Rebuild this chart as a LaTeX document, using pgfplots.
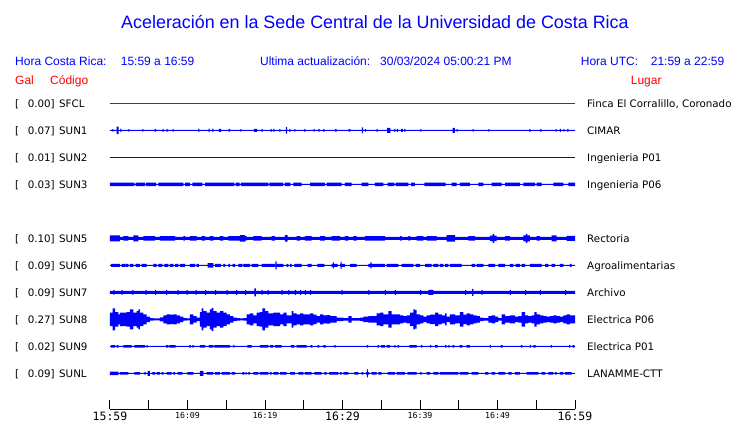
\documentclass[border=0pt]{standalone}
\usepackage{fontspec}
\setmainfont{Liberation Sans}
\newfontfamily\dv{DejaVu Sans}
\newfontfamily\dvm{DejaVu Sans Mono}
\usepackage{pgfplots}
\usepackage{pgfplotstable}
\pgfplotsset{compat=1.18}
\usepgfplotslibrary{fillbetween}
\definecolor{tb}{RGB}{0,0,255}
\definecolor{trd}{RGB}{215,0,0}
\definecolor{hr}{RGB}{255,0,0}

\pgfplotstableread{
t a
0 0.5
0.30 1.3
0.43 0.5
0.85 3.7
1.11 0.5
1.33 1.8
1.46 0.5
2.37 1.2
2.50 0.5
4.17 1.2
4.30 0.5
5.75 1.3
5.94 0.5
6.80 1.5
6.93 0.5
7.31 1.5
7.44 0.5
8.09 1.3
8.22 0.5
11.40 1.8
11.53 0.5
12.73 1.8
12.86 0.5
13.20 1.8
13.33 0.5
14.05 1.5
14.35 0.5
15.30 1.2
15.50 0.5
16.82 1.3
16.95 0.5
18.55 1.5
18.98 0.5
19.57 1.5
19.70 0.5
20.73 1.5
20.86 0.5
21.08 1.5
21.21 0.5
21.85 1.5
21.98 0.5
22.70 3.3
22.86 0.5
23.14 1.5
23.27 0.5
23.78 1.3
23.91 0.5
25.08 1.5
25.21 0.5
26.28 1.2
26.41 0.5
26.88 1.2
27.05 0.5
27.53 1.5
27.66 0.5
29.05 1.3
29.25 0.5
30.80 1.2
31.00 0.5
32.50 3.0
32.66 0.5
32.90 1.3
33.03 0.5
34.41 1.5
34.54 0.5
35.75 2.5
36.18 0.5
36.69 1.5
36.82 0.5
37.03 1.5
37.16 0.5
37.55 1.5
37.80 0.5
37.98 1.5
38.11 0.5
40.04 1.2
40.17 0.5
44.20 2.5
44.50 0.5
44.73 1.3
44.86 0.5
46.80 1.3
46.93 0.5
48.82 1.3
48.95 0.5
54.11 1.5
54.24 0.5
55.53 1.5
55.66 0.5
57.51 1.3
57.64 0.5
58.06 1.5
58.19 0.5
58.49 1.2
58.62 0.5
59.01 1.5
59.14 0.5
60 0.5
}\sunone

\pgfplotstableread{
t a
0 1.7
3.14 0.5
3.31 1.7
4.52 0.5
4.65 1.7
5.94 0.5
6.24 1.7
9.46 0.5
9.68 1.7
10.32 0.5
10.62 1.7
11.91 0.5
12.26 1.7
16.04 0.5
16.22 1.7
16.73 0.5
16.90 1.7
20.43 0.5
20.56 1.7
22.37 0.5
22.58 1.7
23.27 0.5
23.66 1.7
24.73 0.5
25.81 1.7
27.74 0.5
27.96 1.7
29.89 0.5
30.32 1.7
31.18 0.5
32.47 1.7
33.33 0.5
34.19 1.7
35.27 0.5
35.83 1.7
36.69 0.5
36.86 1.7
38.49 0.5
38.84 1.7
39.35 0.5
40.56 1.7
43.31 0.5
44.09 1.7
44.73 0.5
45.16 1.7
46.45 0.5
47.53 1.7
48.17 0.5
49.25 1.7
50.54 0.5
50.97 1.7
52.90 0.5
53.33 1.7
54.84 0.5
55.05 1.7
55.70 0.5
57.20 1.7
58.49 0.5
59.14 1.7
60 1.7
}\sunthree

\pgfplotstableread{
t a
0 3
1.29 1.6
1.72 2.3
2.37 1.6
3.01 3
3.66 1.6
4.30 2.2
5.81 1.6
6.45 2.3
8.39 1.6
9.46 2.2
9.68 1.6
10.32 2.2
11.18 1.6
11.83 2.2
12.26 1.6
12.90 2.2
13.33 1.6
14.19 2.2
14.62 1.6
15.27 2.3
16.77 3.3
17.42 2.3
17.63 1.6
18.49 2.3
19.57 1.6
20.86 2.2
21.29 1.6
22.58 3.3
22.92 1.6
24.09 2.2
24.52 1.6
25.16 2.3
26.02 1.6
27.10 2.2
27.74 1.6
28.60 2.3
29.68 1.6
30.32 2.2
30.75 1.6
31.40 2.2
31.83 1.6
32.90 2.3
35.48 1.6
37.42 2.3
37.63 1.6
38.49 2.3
38.71 1.6
39.57 2.2
40.43 1.6
40.86 2.3
42.15 1.6
43.44 3.3
44.52 1.6
46.24 2.3
47.10 1.6
49.03 2.8
49.36 4.5
49.56 2.8
49.89 1.6
50.97 2.2
51.61 1.6
53.33 3.0
53.66 4.5
53.86 3.0
54.19 1.6
55.05 2.2
55.48 1.6
56.99 3
57.63 1.6
58.92 2.5
60 2.5
}\sunfive

\pgfplotstableread{
t a
0 0.5
0.13 1.5
1.29 0.5
1.51 1.5
1.94 0.5
2.02 1.5
2.37 0.5
2.58 1.5
3.01 0.5
3.31 1.5
3.87 0.5
4.09 1.5
4.73 0.5
5.59 1.5
6.02 0.5
6.24 1.5
6.75 0.5
7.01 1.5
7.53 0.5
7.74 1.5
8.17 0.5
8.39 1.5
8.82 0.5
9.03 1.5
9.68 0.5
10.32 1.5
10.97 0.5
11.18 1.5
11.48 0.5
12.60 2.3
13.33 0.5
13.55 1.5
14.32 0.5
14.62 1.5
14.84 0.5
15.27 1.5
15.48 0.5
15.83 1.5
16.13 0.5
16.56 1.5
17.08 0.5
17.20 1.5
18.06 0.5
18.28 1.5
19.14 0.5
19.57 1.5
21.29 0.5
21.35 4
21.51 1.5
22.37 0.5
22.80 1.5
23.01 0.5
23.23 1.5
23.44 0.5
23.78 1.5
24.73 0.5
25.51 1.5
26.02 0.5
26.75 1.5
27.66 0.5
28.60 1.5
28.75 3
28.90 1.5
29.38 0.5
29.68 1.5
29.75 3.5
29.90 1.5
30.32 0.5
30.97 1.5
31.83 0.5
33.33 1.5
33.60 3
33.75 1.5
35.48 0.5
35.70 1.5
37.20 0.5
37.63 1.5
39.14 0.5
39.44 1.5
40.00 0.5
40.65 1.5
41.51 0.5
41.72 1.5
42.37 0.5
42.58 1.5
43.01 0.5
43.23 1.5
43.66 0.5
43.87 1.5
45.38 0.5
46.67 1.5
47.10 0.5
47.31 1.5
48.17 0.5
48.82 1.5
49.68 0.5
50.11 1.5
50.97 0.5
51.61 1.5
52.04 0.5
52.34 1.5
52.90 0.5
53.12 1.5
53.55 0.5
54.19 1.5
55.70 0.5
56.13 1.5
56.56 0.5
56.99 1.5
57.42 0.5
58.06 1.5
58.49 0.5
59.35 1.5
59.57 0.5
60 0.5
}\sunsix

\pgfplotstableread{
t a
0 1.5
0.43 2.5
0.56 1.5
1.51 2.5
1.64 1.5
2.88 2.5
3.01 1.5
4.60 2.5
4.73 1.5
5.81 2.5
5.94 1.5
7.23 2.5
7.36 1.5
8.73 2.5
8.86 1.5
9.89 2.5
10.02 1.5
11.05 2.5
11.18 1.5
12.26 2.5
12.39 1.5
13.55 2.5
13.68 1.5
15.05 2.5
15.18 1.5
16.26 2.5
16.39 1.5
17.42 2.5
17.55 1.5
18.62 4
18.82 1.5
19.57 2.5
19.70 1.5
20.34 2.5
20.47 1.5
22.15 2.5
22.28 1.5
23.01 2.5
23.14 1.5
23.87 2.5
24.00 1.5
24.52 2.5
24.65 1.5
25.16 2.5
25.29 1.5
25.81 2.5
25.94 1.5
29.89 2.5
30.02 1.5
33.33 2.5
33.46 1.5
35.48 2.5
35.61 1.5
36.77 2.5
36.90 1.5
40.00 2.5
40.13 1.5
41.08 2.5
41.72 1.5
45.81 2.5
45.94 1.5
46.72 3.5
46.90 1.5
47.96 2.5
48.09 1.5
51.61 2.5
51.74 1.5
53.55 2.5
53.68 1.5
55.48 2.5
55.61 1.5
58.71 2.5
58.84 1.5
60 1.5
}\sunseven

\pgfplotstableread{
t a
0.00 6.7
0.34 11
0.65 7.3
1.08 5
1.29 6.7
1.72 6.7
2.15 7.3
2.58 10
3.01 6.7
3.44 8.3
3.66 10
3.87 6.7
4.30 5
4.73 2.7
5.16 1.3
5.59 1
6.02 1
6.45 2
6.88 4
7.31 5
7.74 4.7
8.17 5
8.60 4
9.03 2.7
9.46 1.3
9.89 1
10.32 5
10.75 3.3
11.18 1.7
11.61 7.3
11.83 11
12.04 8.3
12.47 6.7
12.90 10
13.12 11.5
13.33 8.3
13.76 6.7
14.19 8.3
14.62 6.7
15.05 5
15.48 3.3
15.91 1.7
16.34 1.3
16.77 1
17.20 1.3
17.63 5
18.06 6
18.49 4
18.92 6.7
19.35 7.3
19.66 11
20.00 8.3
20.43 6
21.08 6.7
21.94 5
22.37 6.7
22.80 4
23.44 8.3
23.66 6
24.09 5
24.52 6
24.95 5
25.38 5
25.81 6
26.24 4.7
26.67 3.3
27.10 5
27.53 4
27.96 4.3
28.39 3.3
28.82 3.3
29.25 1.7
30.11 1.3
30.75 3.3
31.18 1.3
32.26 1.7
32.69 2.7
33.33 3.3
34.41 6
34.84 6.7
35.27 5
35.91 8.3
36.34 5
36.99 5
37.42 4
37.85 3.3
38.28 4
38.71 6.7
39.14 10
39.35 9.3
39.57 5
40.00 4
40.43 2.7
40.86 4
41.29 4.7
41.94 6.7
42.37 5
42.80 4
43.23 6
43.44 2.7
43.87 5
44.52 4
45.16 7.3
45.59 4.7
46.02 6
46.45 5
46.88 4
47.31 3.3
47.74 1.7
48.17 1.3
48.82 3.3
49.25 4
49.68 2.7
50.11 1.3
50.54 5
50.97 3.3
51.61 4
52.26 2.7
52.69 3.3
53.12 7.3
53.55 4
53.98 3.3
54.41 4
54.75 7.3
55.05 5
55.48 4
55.91 3.3
56.34 2.7
56.77 3.3
57.20 4
57.63 3.3
58.06 2.7
58.49 4
58.92 5
59.35 4
60.00 3.3
}\suneight

\pgfplotstableread{
t a
0 0.5
0.13 1.3
0.65 0.5
0.86 1.3
1.08 0.5
1.72 1.3
2.80 0.5
3.14 1.3
4.52 0.5
4.73 1.3
4.86 0.5
7.23 1.3
7.53 0.5
7.66 1.3
8.47 0.5
10.24 1.3
10.45 0.5
10.62 1.3
10.80 0.5
11.61 1.3
12.26 0.5
12.77 1.3
13.33 0.5
13.46 1.3
15.48 0.5
15.91 1.3
16.04 0.5
17.72 1.3
18.28 0.5
19.35 1.3
20.43 0.5
20.65 1.3
21.08 0.5
21.29 1.3
22.15 0.5
23.35 1.3
23.78 0.5
24.09 1.3
25.38 0.5
25.89 1.3
26.11 0.5
26.80 1.3
26.97 0.5
27.53 1.3
27.83 0.5
28.95 1.3
29.12 0.5
33.16 1.3
33.29 0.5
34.54 1.3
34.71 0.5
34.97 1.3
35.48 0.5
35.70 1.3
36.13 0.5
36.69 1.3
36.86 0.5
37.12 1.3
37.29 0.5
38.62 1.3
39.57 0.5
40.13 1.3
40.30 0.5
41.29 1.3
41.42 0.5
41.94 1.3
42.28 0.5
43.23 1.3
43.40 0.5
43.66 1.3
43.83 0.5
44.22 1.3
44.43 0.5
45.12 1.3
45.46 0.5
46.02 1.3
46.45 0.5
49.03 1.3
49.16 0.5
50.41 1.3
50.67 0.5
53.03 1.3
53.20 0.5
54.19 1.3
54.32 0.5
54.62 1.3
54.92 0.5
56.90 1.3
57.03 0.5
59.23 1.3
59.36 0.5
59.70 1.3
59.91 0.5
60 0.5
}\sunnine

\pgfplotstableread{
t a
0 1.8
1.08 0.5
1.29 1.3
2.37 0.5
3.14 1.3
3.87 0.5
4.43 1.3
4.60 0.5
4.86 2.5
5.16 0.5
5.46 1.3
5.81 0.5
6.02 1.3
6.45 0.5
6.67 1.3
6.88 0.5
7.31 1.3
7.96 0.5
8.17 1.3
8.39 0.5
8.73 1.3
9.33 0.5
9.98 1.3
10.75 0.5
11.61 2.5
12.04 0.5
12.47 1.3
13.33 0.5
13.55 1.3
14.19 0.5
14.41 1.3
15.48 0.5
15.70 1.3
16.13 0.5
17.08 1.3
17.33 0.5
17.51 1.3
17.63 0.5
17.85 1.3
18.06 0.5
18.49 1.3
19.14 0.5
19.35 1.3
20.43 0.5
20.65 1.3
20.86 0.5
21.08 1.3
21.72 0.5
21.94 1.3
22.80 0.5
23.23 1.3
23.87 0.5
24.30 1.3
24.95 0.5
25.16 1.3
26.02 0.5
26.37 1.3
27.31 0.5
27.66 1.3
27.96 0.5
28.26 1.3
29.46 0.5
29.68 1.3
29.89 0.5
30.11 1.3
30.75 0.5
31.53 1.3
32.04 0.5
32.47 1.3
32.69 0.5
33.05 1.3
33.15 4
33.28 1.3
33.45 0.5
33.76 1.3
34.41 0.5
34.62 1.3
35.05 0.5
35.83 1.3
36.77 0.5
36.99 1.3
38.06 0.5
38.41 1.3
39.57 0.5
40.00 1.3
40.22 0.5
40.86 1.3
41.29 0.5
41.72 1.3
42.37 0.5
42.58 1.3
44.95 0.5
45.16 1.3
46.24 0.5
46.67 1.3
47.53 0.5
48.39 1.3
48.82 0.5
49.25 1.3
49.68 0.5
50.11 1.3
50.97 0.5
51.40 1.3
51.83 0.5
52.26 1.3
52.90 0.5
53.76 1.3
55.27 0.5
55.70 1.3
56.13 0.5
56.56 1.3
57.20 0.5
57.42 1.3
57.63 0.5
58.06 1.3
58.49 0.5
58.71 1.3
59.57 0.5
60 0.5
}\sunL

\newcommand{\trace}[3]{%
  \addplot[draw=none, const plot, name path=#3u, forget plot] table[x=t, y expr=#2+\thisrow{a}] {#1};
  \addplot[draw=none, const plot, name path=#3d, forget plot] table[x=t, y expr=#2-\thisrow{a}] {#1};
  \addplot[fill=tb, draw=none, forget plot] fill between[of=#3u and #3d];
}
\newcommand{\lab}[4]{% y, value, code, place
  \node[anchor=base west, inner sep=0pt, font=\dv\fontsize{10.3}{12}\selectfont] at (axis cs:-12.26,#1-4) {[};
  \node[anchor=base east, inner sep=0pt, font=\dv\fontsize{10.3}{12}\selectfont] at (axis cs:-7.10,#1-4) {#2]};
  \node[anchor=base west, inner sep=0pt, font=\dv\fontsize{10.3}{12}\selectfont] at (axis cs:-6.58,#1-4) {#3};
  \node[anchor=base west, inner sep=0pt, font=\dv\fontsize{10.3}{12}\selectfont] at (axis cs:61.55,#1-4) {#4};
}

\begin{document}
\begin{tikzpicture}
\begin{axis}[
  scale only axis, width=465pt, height=409pt,
  xmin=0, xmax=60, ymin=14, ymax=423,
  axis x line=bottom, axis y line=none,
  x axis line style={-, black, line width=1pt},
  xtick={0,5,...,60},
  xticklabels={{\fontsize{11.5}{12}\selectfont 15:59},{},{16:09},{},{16:19},{},{\fontsize{11.5}{12}\selectfont 16:29},{},{16:39},{},{16:49},{},{\fontsize{11.5}{12}\selectfont 16:59}},
  xticklabel style={font=\dvm\fontsize{8.3}{9}\selectfont, anchor=north, inner sep=0pt, yshift=-3.2pt},
  tick align=inside, major tick length=9pt,
  xtick style={black, line width=1pt},
  clip=false,
]
% traces
\addplot[trd, line width=1pt, forget plot] coordinates {(0,319.6) (60,319.6)};
\trace{\sunone}{292.6}{a}
\addplot[tb, line width=1pt, forget plot] coordinates {(0,265.6) (60,265.6)};
\trace{\sunthree}{238.6}{c}
\trace{\sunfive}{184.6}{e}
\trace{\sunsix}{157.6}{f}
\trace{\sunseven}{130.6}{g}
\trace{\suneight}{103.6}{h}
\trace{\sunnine}{76.6}{i}
\trace{\sunL}{49.6}{j}

% title and header
\node[anchor=base, inner sep=0pt, text=tb, font=\fontsize{17.9}{20}\selectfont] at (axis cs:34.19,394) {Aceleración en la Sede Central de la Universidad de Costa Rica};
\node[anchor=base west, inner sep=0pt, text=tb, font=\fontsize{12}{14}\selectfont] at (axis cs:-12.26,357) {Hora Costa Rica:};
\node[anchor=base west, inner sep=0pt, text=tb, font=\fontsize{12}{14}\selectfont] at (axis cs:1.38,357) {15:59 a 16:59};
\node[anchor=base west, inner sep=0pt, text=tb, font=\fontsize{12}{14}\selectfont] at (axis cs:19.35,357) {Ultima actualización:};
\node[anchor=base west, inner sep=0pt, text=tb, font=\fontsize{12}{14}\selectfont] at (axis cs:34.84,357) {30/03/2024 05:00:21 PM};
\node[anchor=base west, inner sep=0pt, text=tb, font=\fontsize{12}{14}\selectfont] at (axis cs:60.73,357) {Hora UTC:};
\node[anchor=base west, inner sep=0pt, text=tb, font=\fontsize{12}{14}\selectfont] at (axis cs:69.76,357) {21:59 a 22:59};
\node[anchor=base west, inner sep=0pt, text=hr, font=\fontsize{12}{14}\selectfont] at (axis cs:-12.26,338.5) {Gal};
\node[anchor=base west, inner sep=0pt, text=hr, font=\fontsize{12}{14}\selectfont] at (axis cs:-7.74,338.5) {Código};
\node[anchor=base west, inner sep=0pt, text=hr, font=\fontsize{12}{14}\selectfont] at (axis cs:67.18,338.5) {Lugar};

\lab{319.6}{0.00}{SFCL}{Finca El Corralillo, Coronado}
\lab{292.6}{0.07}{SUN1}{CIMAR}
\lab{265.6}{0.01}{SUN2}{Ingenieria P01}
\lab{238.6}{0.03}{SUN3}{Ingenieria P06}
\lab{184.6}{0.10}{SUN5}{Rectoria}
\lab{157.6}{0.09}{SUN6}{Agroalimentarias}
\lab{130.6}{0.09}{SUN7}{Archivo}
\lab{103.6}{0.27}{SUN8}{Electrica P06}
\lab{76.6}{0.02}{SUN9}{Electrica P01}
\lab{49.6}{0.09}{SUNL}{LANAMME-CTT}

\coordinate (bl) at (axis cs:-14.1935,0);
\coordinate (tr) at (axis cs:81.2903,423);
\end{axis}
\pgfresetboundingbox
\useasboundingbox (bl) rectangle (tr);
\end{tikzpicture}
\end{document}
